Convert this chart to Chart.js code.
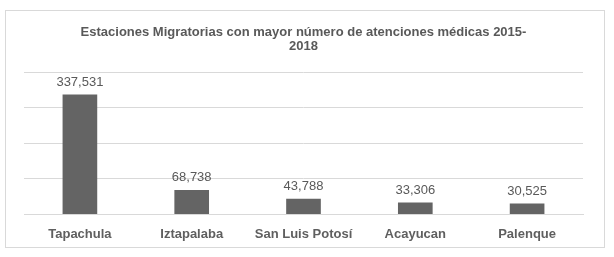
<!DOCTYPE html>
<html>
<head>
<meta charset="utf-8">
<script src="https://cdn.jsdelivr.net/npm/chart.js@4"></script>
<style>
  body { margin: 0; background: #fff; }
  #marco { position: absolute; left: 5px; top: 10px; width: 598px; height: 236px; border: 1px solid #d9d9d9; }
  #grafica { position: absolute; left: 0; top: 0; }
</style>
</head>
<body>
<div id="marco"></div>
<canvas id="grafica" width="614" height="257"></canvas>
<script>
const estaciones = ['Tapachula', 'Iztapalaba', 'San Luis Potosí', 'Acayucan', 'Palenque'];
const atenciones = [337531, 68738, 43788, 33306, 30525];
const titulo = ['Estaciones Migratorias con mayor número de atenciones médicas 2015-', '2018'];

// etiquetas con el valor encima de cada barra
const etiquetasValor = {
    id: 'etiquetasValor',
    afterDatasetsDraw(chart) {
        const ctx = chart.ctx;
        const meta = chart.getDatasetMeta(0);
        ctx.save();
        ctx.font = '13px "Liberation Sans", Arial, sans-serif';
        ctx.fillStyle = '#595959';
        ctx.textAlign = 'center';
        ctx.textBaseline = 'bottom';
        meta.data.forEach(function (barra, i) {
            ctx.fillText(atenciones[i].toLocaleString('en-US'), barra.x, barra.y - 6);
        });
        ctx.restore();
    }
};

const ctx = document.getElementById('grafica').getContext('2d');
new Chart(ctx, {
    type: 'bar',
    data: {
        labels: estaciones,
        datasets: [{
            label: 'Atenciones médicas',
            data: atenciones,
            backgroundColor: '#646464',
            barPercentage: 0.62,
            categoryPercentage: 0.5
        }]
    },
    options: {
        responsive: false,
        animation: false,
        layout: { padding: { left: 24, right: 31, top: 0, bottom: 11 } },
        plugins: {
            legend: { display: false },
            tooltip: { enabled: false },
            title: {
                display: true,
                text: titulo,
                color: '#595959',
                font: { family: '"Liberation Sans", Arial, sans-serif', size: 13, weight: 'bold', lineHeight: 1.05 },
                padding: { top: 26, bottom: 19 }
            }
        },
        scales: {
            x: {
                grid: { display: false },
                border: { color: '#d9d9d9' },
                ticks: {
                    color: '#5f5f5f',
                    padding: 4,
                    font: { family: '"Liberation Sans", Arial, sans-serif', size: 13, weight: 'bold' }
                }
            },
            y: {
                min: 0,
                max: 400000,
                ticks: { display: false, stepSize: 100000 },
                border: { display: false },
                grid: { color: '#d9d9d9', drawTicks: false }
            }
        }
    },
    plugins: [etiquetasValor]
});
</script>
</body>
</html>
